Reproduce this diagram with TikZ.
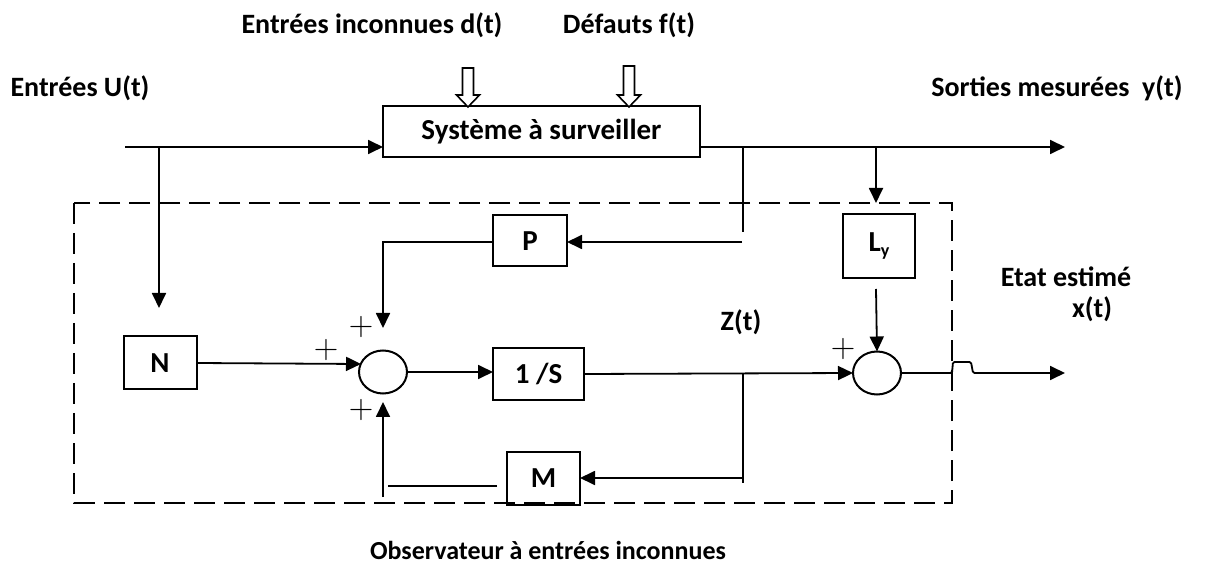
\documentclass[tikz,border=0pt]{standalone}
\usepackage{fontspec}
\setmainfont{Carlito}
\newfontfamily\signfont{Latin Modern Roman}
\usetikzlibrary{arrows.meta,shapes.geometric,calc}
\begin{document}
\begin{tikzpicture}[x=1pt,y=-1pt,
  line width=1.8pt,
  every node/.style={inner sep=0pt,outer sep=0pt},
  blk/.style={draw,line width=2pt,minimum width=#1,font=\bfseries\fontsize{29}{32}\selectfont},
  lbl/.style={font=\bfseries\fontsize{28}{31}\selectfont},
  sumnode/.style={draw,ellipse,line width=2pt,minimum width=48pt,minimum height=43pt},
  sign/.style={font=\signfont\fontsize{34}{34}\selectfont},
  arr/.style={-{Triangle[length=15pt,width=14pt]}},
  hollow/.style={draw,line width=1.6pt,fill=white}]
\useasboundingbox (0,0) rectangle (1211,585);

% observer frame
\draw[line width=2.2pt,dash pattern=on 21pt off 9pt] (74,203) rectangle (952,503);

% blocks
\node[blk=317pt,minimum height=51pt] (sys) at (541.5,132) {Système à surveiller};
\node[blk=74pt,minimum height=51pt] (P) at (530,241) {P};
\node[blk=73pt,minimum height=53pt] (N) at (160,363) {N};
\node[blk=91pt,minimum height=52pt] (S) at (538.5,374) {1 /S};
\node[blk=73pt,minimum height=53pt] (M) at (543.5,478.5) {M};
\node[blk=72pt,minimum height=64pt] (Ly) at (879,246) {L\raisebox{-0.35ex}{\fontsize{18}{18}\selectfont y}};
\node[sumnode] (s1) at (383,372) {};
\node[sumnode] (s2) at (877,373) {};

% texts
\node[lbl] (tu) at (80,88) {Entrées U(t)};
\node[lbl] (td) at (372,25) {Entrées inconnues d(t)};
\node[lbl] (tf) at (629,25) {Défauts f(t)};
\node[lbl] (ty) at (1057,88) {Sorties mesurées\ \ y(t)};
\node[lbl] (tz) at (741,322) {Z(t)};
\node[lbl] (te) at (1066,277) {Etat estimé};
\node[lbl] (tx) at (1092,309) {x(t)};
\node[lbl,font=\bfseries\fontsize{26}{29}\selectfont] (to) at (548,550) {Observateur à entrées inconnues};

% signs
\node[sign] (p1) at (326,350) {+};
\node[sign] (p2) at (361,327) {+};
\node[sign] (p3) at (361,410) {+};
\node[sign] (p4) at (843,349) {+};

% hollow arrows for unknown inputs and faults
\foreach \xa/\ya in {468/68,629/66}{
  \draw[hollow] (\xa-5.5,\ya) -- (\xa+5.5,\ya) -- (\xa+5.5,95) -- (\xa+11.5,95)
     -- (\xa,107) -- (\xa-11.5,95) -- (\xa-5.5,95) -- cycle;
}

% coordinates of branch points and free ends
\coordinate (uin) at (125,147);
\coordinate (uN) at (159,147);
\coordinate (yout) at (1065,147);
\coordinate (tapP) at (743,147);
\coordinate (tapPend) at (743,232);
\coordinate (Pin) at (742,242);
\coordinate (tapL) at (876,147);
\coordinate (Lyin) at (876,203);
\coordinate (Lyout) at (876,289);
\coordinate (Pcorner) at (383,242);
\coordinate (zt) at (743,374);
\coordinate (zb) at (743,483);
\coordinate (Mret) at (743,478);
\coordinate (Mleft) at (497,486);
\coordinate (Mleft2) at (388,486);
\coordinate (s1bot) at (383,497);
\coordinate (xout) at (1065,373);

% system input and output
\draw[arr] (uin) -- (uin -| sys.west);
\draw (uin -| sys.east) -- (tapP);
\draw[arr] (tapP) -- (yout);
\draw[arr] (uN) -- (159,308);
\draw (tapP) -- (tapPend);
\draw[arr] (tapL) -- (Lyin);

% observer connections
\draw[arr] (Pin) -- (Pin -| P.east);
\draw[arr] (P.west |- Pin) -- (Pcorner) -- (383,328);
\draw[arr] (N.east) -- (361,364);
\draw[arr] (s1.east) -- (s1.east -| S.west);
\draw[arr] (S.east) -- (s2.west);
\draw[arr] (Lyout) -- (s2.north);
\draw (zt) -- (zb);
\draw[arr] (Mret) -- (Mret -| M.east);
\draw (Mleft) -- (Mleft2);
\draw[arr] (s1bot) -- (383,402);
\draw[arr,rounded corners=1.5pt] (s2.east) -- (952,373) -- (953,362) -- (971,362) -- (973,373) -- (xout);
\end{tikzpicture}
\end{document}
